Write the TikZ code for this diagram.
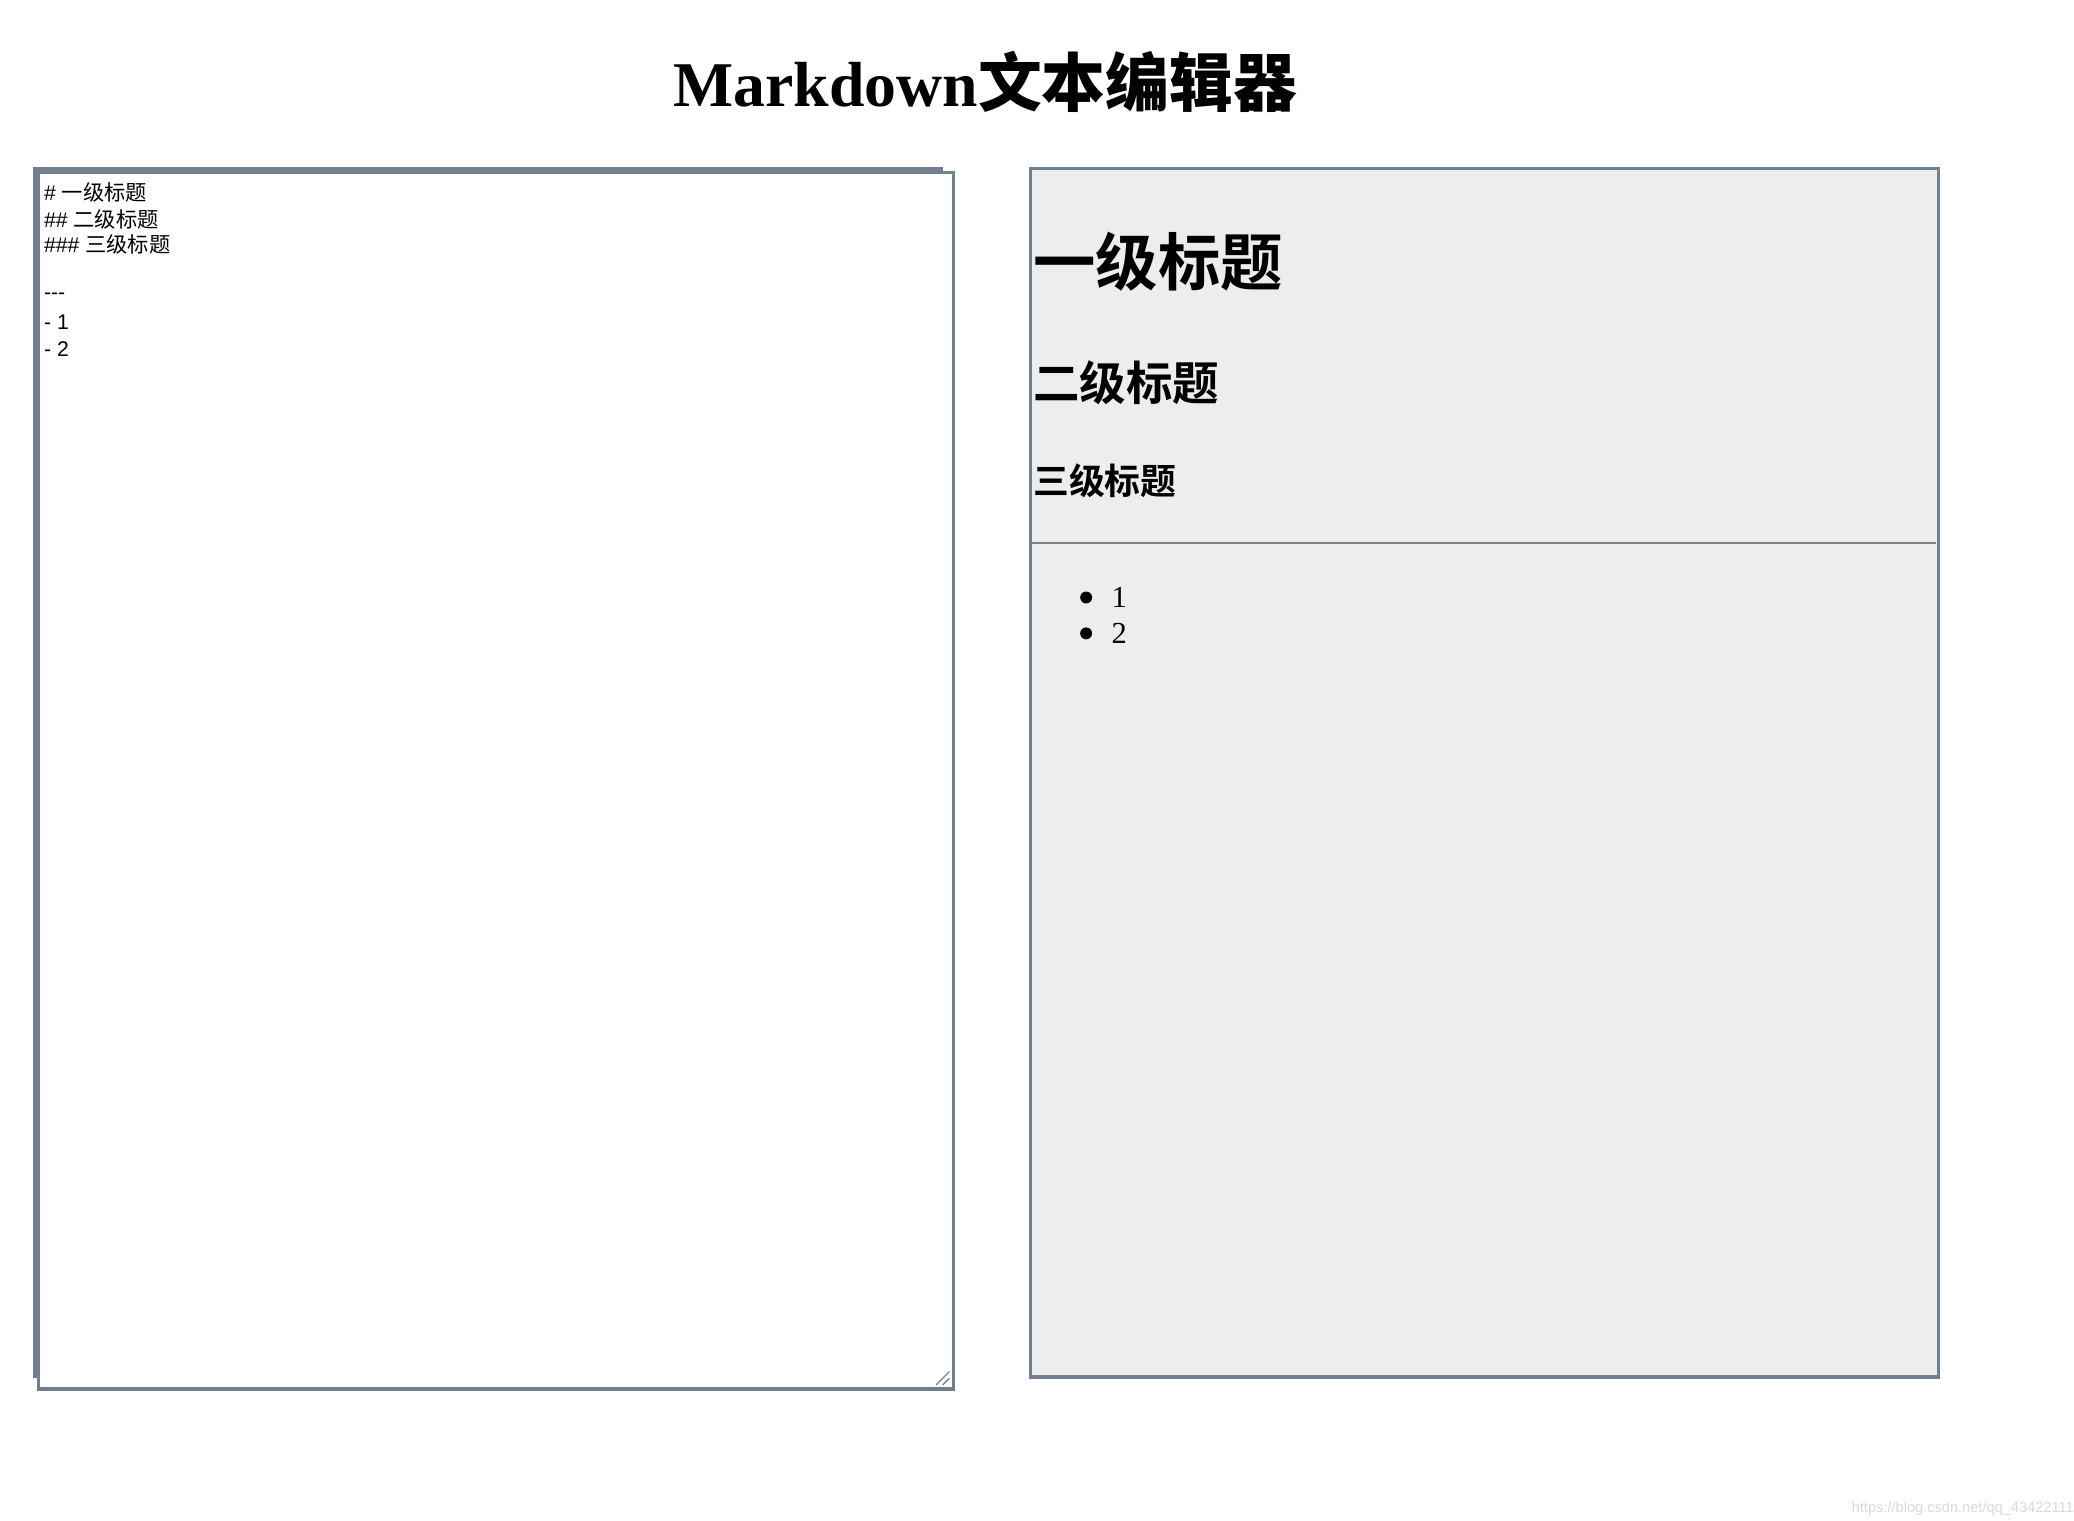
\documentclass[tikz,border=0pt]{standalone}
\usepackage{fontspec}
\setmainfont{Liberation Serif}
\newfontfamily\cjk{Noto Sans CJK SC}
\newfontfamily\cjkb{Noto Sans CJK SC Bold}
\newfontfamily\sansf{Liberation Sans}
\definecolor{bd}{RGB}{112,128,144}
\definecolor{pv}{RGB}{238,237,237}
\tikzset{src/.style={anchor=west,inner sep=0pt,font=\sansf\fontsize{16}{16}\selectfont}}
\begin{document}
\begin{tikzpicture}[x=1pt,y=-1pt]
\useasboundingbox (0,0) rectangle (1562,1145);
\node[inner sep=0pt] (title) at (742,62) {\fontsize{48}{48}\selectfont\bfseries Markdown{\cjkb 文本编辑器}};
% left textarea
\fill[bd] (25,126) rectangle (710,131);
\fill[bd] (25,126) rectangle (30,1038);
\draw[bd,line width=2.5] (29,130) rectangle (718,1046);
\draw[gray,line width=1] (705,1043) -- (715,1033) (710,1043) -- (715,1038);
\node[src] (l1) at (33,145) {\# {\cjk 一级标题}};
\node[src] (l2) at (33,165) {\#\# {\cjk 二级标题}};
\node[src] (l3) at (33,184) {\#\#\# {\cjk 三级标题}};
\node[src] (l4) at (33,223) {-{}-{}-};
\node[src] (l5) at (33,243) {- 1};
\node[src] (l6) at (33,263) {- 2};
% preview
\draw[bd,line width=2.5,fill=pv] (776,127) rectangle (1460,1037);
\node[anchor=west,inner sep=0pt] (h1) at (778,197) {\cjkb\fontsize{47}{47}\selectfont 一级标题};
\node[anchor=west,inner sep=0pt] (h2) at (778,288) {\cjkb\fontsize{35}{35}\selectfont 二级标题};
\node[anchor=west,inner sep=0pt] (h3) at (778,362) {\cjkb\fontsize{27}{27}\selectfont 三级标题};
\draw[gray,line width=1] (777,409) -- (1458,409);
\fill (818,450) circle (4.5);
\fill (818,477) circle (4.5);
\node[anchor=west,inner sep=0pt,font=\fontsize{23}{23}\selectfont] (i1) at (837,450) {1};
\node[anchor=west,inner sep=0pt,font=\fontsize{23}{23}\selectfont] (i2) at (837,477) {2};
\node[anchor=east,inner sep=0pt,text=black!15,font=\sansf\fontsize{11}{11}\selectfont] (wm) at (1562,1136) {https://blog.csdn.net/qq\_43422111};
\end{tikzpicture}
\end{document}
